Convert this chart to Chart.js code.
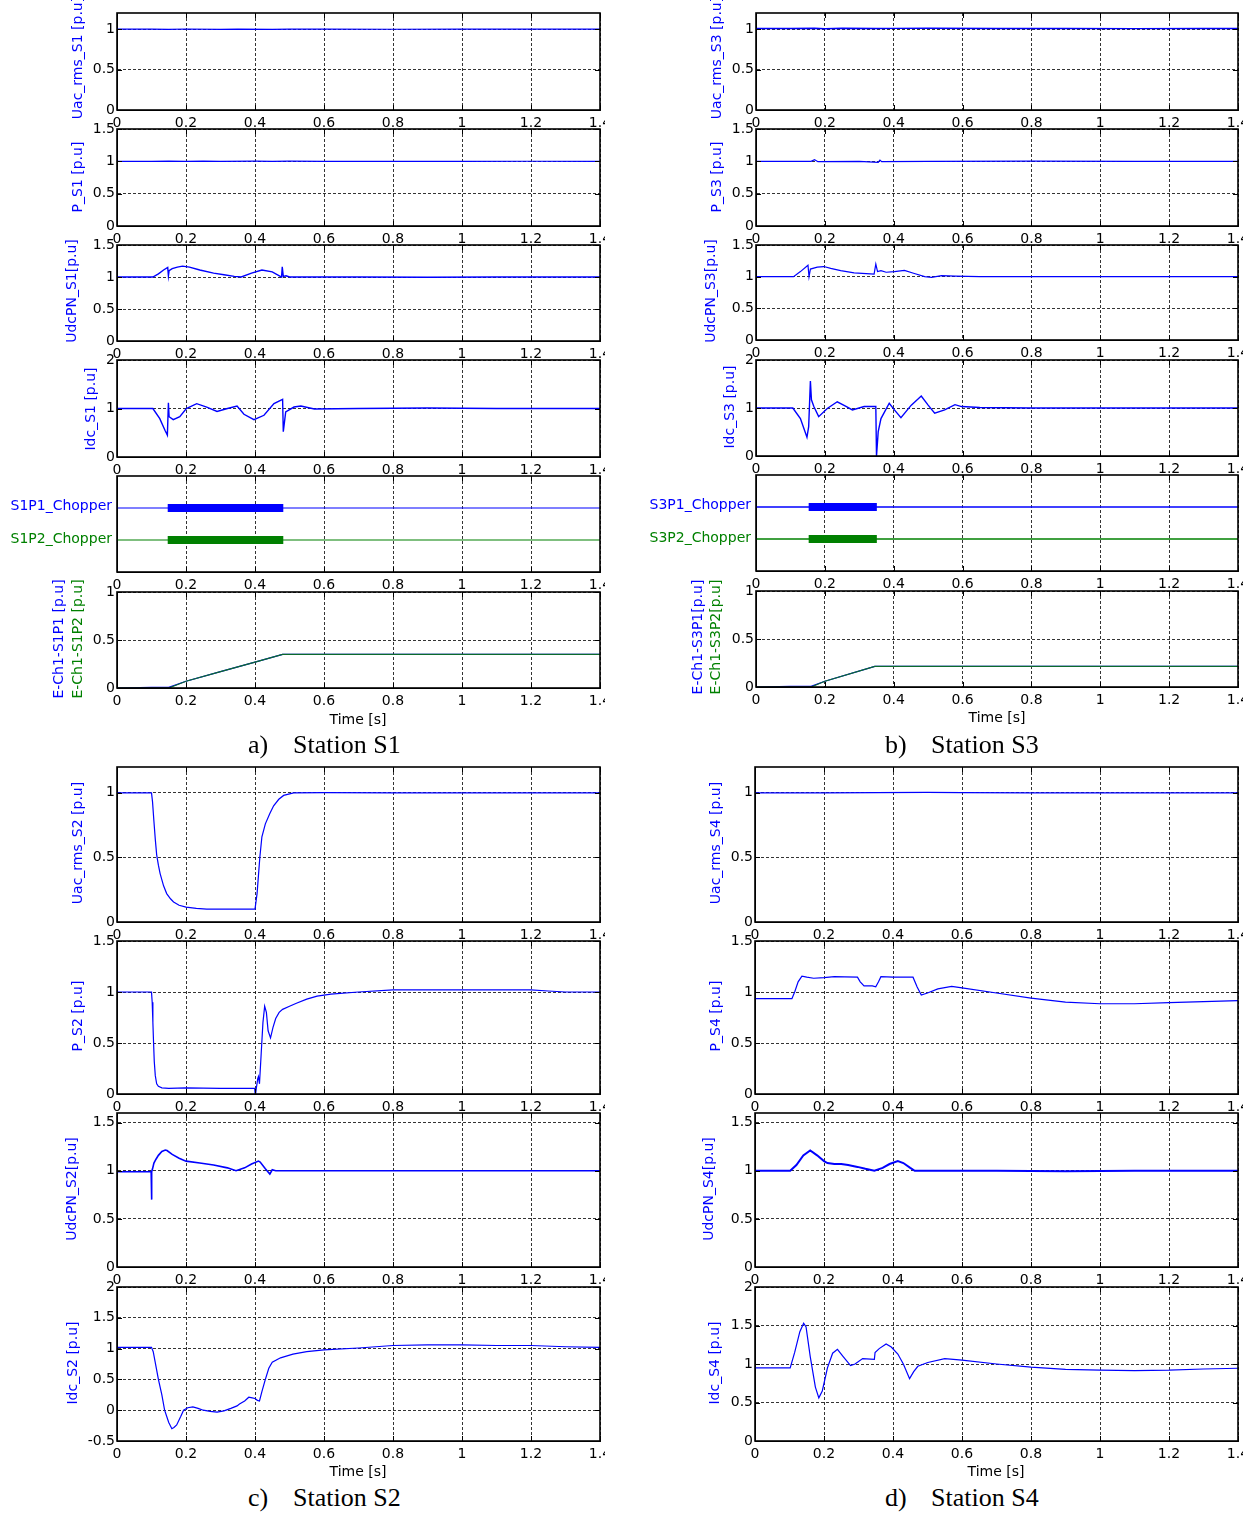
<!DOCTYPE html>
<html><head><meta charset="utf-8">
<script src="https://cdn.jsdelivr.net/npm/chart.js@4.4.1/dist/chart.umd.min.js"></script>
<style>
html,body{margin:0;padding:0;background:#fff;}
#root{position:relative;width:1259px;height:1515px;overflow:hidden;background:#fff;}
.cw{position:absolute;}
.cw canvas{display:block;}
.yl{position:absolute;white-space:nowrap;font-family:'DejaVu Sans';font-size:14px;color:#0000ff;transform:translate(-50%,-50%) rotate(-90deg);line-height:1;}
.hl{position:absolute;white-space:nowrap;font-family:'DejaVu Sans';font-size:14px;line-height:1;transform:translate(-100%,-50%);}
.tl{position:absolute;white-space:nowrap;font-family:'DejaVu Sans';font-size:14px;color:#000;transform:translate(-50%,-50%);line-height:1;}
.cap{position:absolute;white-space:nowrap;font-family:'Liberation Serif';font-size:26px;color:#000;transform:translateY(-50%);line-height:1;}
</style></head><body><div id="root"></div>
<script>
// ---------- tick values / labels ----------
const X_TICKS = [0, 0.2, 0.4, 0.6, 0.8, 1, 1.2, 1.4];
const X_TICK_LABELS = ['0', '0.2', '0.4', '0.6', '0.8', '1', '1.2', '1.4'];
const Y_TICKS_UAC = [0, 0.5, 1];
const Y_LABELS_UAC = ['0', '0.5', '1'];
const Y_TICKS_15 = [0, 0.5, 1, 1.5];
const Y_LABELS_15 = ['0', '0.5', '1', '1.5'];
const Y_TICKS_IDC_AB = [0, 1, 2];
const Y_LABELS_IDC_AB = ['0', '1', '2'];
const Y_TICKS_ECH = [0, 0.5, 1];
const Y_LABELS_ECH = ['0', '0.5', '1'];
const Y_TICKS_IDC_S2 = [-0.5, 0, 0.5, 1, 1.5, 2];
const Y_LABELS_IDC_S2 = ['-0.5', '0', '0.5', '1', '1.5', '2'];
const Y_TICKS_IDC_S4 = [0, 0.5, 1, 1.5, 2];
const Y_LABELS_IDC_S4 = ['0', '0.5', '1', '1.5', '2'];

// ---------- Station S1 ----------
const t_S1_Uac = [0, 0.1, 0.15, 0.2, 0.3, 0.35, 0.45, 0.5, 0.6, 0.8, 1.0, 1.2, 1.4];
const v_S1_Uac = [1, 1, 0.997, 1.002, 0.998, 1.001, 0.997, 1.0, 1.001, 0.999, 1.0, 1.001, 1.0];
const t_S1_P = [0, 0.1, 0.15, 0.2, 0.25, 0.3, 0.4, 0.45, 0.5, 0.6, 0.8, 1.0, 1.2, 1.4];
const v_S1_P = [1, 1, 1.003, 0.998, 1.004, 0.999, 1.002, 0.998, 1.002, 1.0, 1.0, 0.999, 1.001, 1.0];
const t_S1_Udc = [0, 0.104, 0.12, 0.135, 0.147, 0.149, 0.151, 0.16, 0.175, 0.19, 0.21, 0.24, 0.28, 0.31, 0.34, 0.36, 0.39, 0.42, 0.45, 0.477, 0.479, 0.482, 0.49, 0.5, 0.55, 0.7, 0.9, 1.1, 1.4];
const v_S1_Udc = [1, 1, 1.05, 1.11, 1.15, 1.02, 1.1, 1.13, 1.155, 1.17, 1.155, 1.11, 1.06, 1.035, 1.01, 1.0, 1.06, 1.11, 1.08, 1.0, 1.16, 1.01, 1.02, 1.0, 1.0, 1.0, 0.995, 1.0, 1.0];
const t_S1_Idc = [0, 0.104, 0.124, 0.139, 0.146, 0.149, 0.151, 0.163, 0.182, 0.201, 0.231, 0.26, 0.29, 0.32, 0.348, 0.368, 0.397, 0.426, 0.455, 0.48, 0.482, 0.489, 0.513, 0.533, 0.572, 0.7, 0.9, 1.1, 1.3, 1.4];
const v_S1_Idc = [1, 1, 0.79, 0.55, 0.45, 1.12, 0.83, 0.77, 0.83, 1.0, 1.1, 1.03, 0.94, 1.0, 1.05, 0.88, 0.77, 0.86, 1.1, 1.19, 0.52, 0.93, 1.03, 1.05, 0.99, 1.0, 1.01, 1.0, 1.0, 1.0];
const t_S1_Chop = [0, 1.4];
const t_S1_ChopOn = [0.147, 0.482];
const v_Chop_P1 = [2, 2];
const v_Chop_P2 = [1, 1];
const t_S1_E1 = [0, 0.1, 0.15, 0.2, 0.3, 0.4, 0.48, 1.4];
const v_S1_E1 = [0, 0.006, 0.006, 0.07, 0.17, 0.27, 0.35, 0.35];
const t_S1_E2 = [0, 0.15, 0.2, 0.3, 0.4, 0.48, 1.4];
const v_S1_E2 = [0, 0, 0.07, 0.17, 0.27, 0.35, 0.35];

// ---------- Station S3 ----------
const t_S3_Uac = [0, 0.1, 0.17, 0.2, 0.25, 0.35, 0.4, 0.5, 0.7, 0.9, 1.1, 1.3, 1.4];
const v_S3_Uac = [1.008, 1.008, 1.012, 1.006, 1.012, 1.008, 1.01, 1.012, 1.008, 1.009, 1.007, 1.009, 1.008];
const t_S3_P = [0, 0.16, 0.17, 0.18, 0.3, 0.355, 0.36, 0.365, 0.5, 0.8, 1.1, 1.4];
const v_S3_P = [1, 1, 1.025, 0.995, 1.0, 0.985, 1.02, 0.995, 1.0, 1.003, 1.0, 1.0];
const t_S3_Udc = [0, 0.109, 0.129, 0.151, 0.154, 0.158, 0.178, 0.197, 0.217, 0.246, 0.285, 0.343, 0.348, 0.353, 0.363, 0.378, 0.402, 0.431, 0.46, 0.49, 0.51, 0.539, 0.578, 0.65, 0.8, 1.0, 1.2, 1.4];
const v_S3_Udc = [1, 1, 1.08, 1.18, 1.0, 1.12, 1.15, 1.16, 1.13, 1.095, 1.06, 1.04, 1.2, 1.08, 1.095, 1.07, 1.08, 1.1, 1.05, 1.0, 0.99, 1.015, 1.01, 1.0, 1.0, 1.0, 1.0, 1.0];
const t_S3_Idc = [0, 0.107, 0.129, 0.148, 0.153, 0.158, 0.161, 0.168, 0.182, 0.207, 0.236, 0.26, 0.28, 0.314, 0.348, 0.35, 0.355, 0.363, 0.387, 0.402, 0.421, 0.451, 0.48, 0.5, 0.519, 0.548, 0.578, 0.597, 0.65, 0.8, 1.0, 1.2, 1.4];
const v_S3_Idc = [1, 1, 0.78, 0.39, 0.61, 1.56, 1.17, 1.03, 0.82, 0.99, 1.13, 1.04, 0.96, 1.03, 1.03, 0.0, 0.51, 0.78, 1.1, 0.96, 0.8, 1.06, 1.25, 1.06, 0.89, 0.96, 1.07, 1.03, 1.01, 1.0, 1.0, 1.0, 1.0];
const t_S3_ChopOn = [0.153, 0.351];
const t_S3_E1 = [0, 0.1, 0.16, 0.2, 0.345, 1.4];
const v_S3_E1 = [0, 0.006, 0.006, 0.06, 0.215, 0.215];
const t_S3_E2 = [0, 0.16, 0.2, 0.345, 1.4];
const v_S3_E2 = [0, 0, 0.06, 0.215, 0.215];

// ---------- Station S2 ----------
const t_S2_Uac = [0, 0.1, 0.103, 0.107, 0.111, 0.115, 0.12, 0.125, 0.135, 0.144, 0.155, 0.164, 0.18, 0.2, 0.23, 0.26, 0.4, 0.406, 0.414, 0.42, 0.43, 0.443, 0.454, 0.469, 0.483, 0.512, 0.6, 0.8, 1.0, 1.2, 1.4];
const v_S2_Uac = [1, 1, 0.93, 0.78, 0.64, 0.52, 0.44, 0.375, 0.28, 0.22, 0.18, 0.155, 0.13, 0.115, 0.105, 0.1, 0.1, 0.22, 0.5, 0.66, 0.76, 0.84, 0.9, 0.95, 0.98, 1.0, 1.002, 1.0, 1.0, 1.0, 1.0];
const t_S2_P = [0, 0.1, 0.102, 0.104, 0.106, 0.108, 0.111, 0.115, 0.12, 0.13, 0.15, 0.2, 0.3, 0.399, 0.401, 0.404, 0.408, 0.41, 0.413, 0.418, 0.423, 0.428, 0.433, 0.438, 0.445, 0.452, 0.46, 0.47, 0.48, 0.5, 0.52, 0.55, 0.58, 0.62, 0.7, 0.8, 0.9, 1.0, 1.1, 1.2, 1.25, 1.3, 1.4];
const v_S2_P = [1, 1, 0.9, 0.7, 0.5, 0.32, 0.18, 0.1, 0.075, 0.06, 0.055, 0.06, 0.055, 0.055, -0.02, 0.06, 0.15, 0.17, 0.1, 0.4, 0.7, 0.86, 0.8, 0.62, 0.55, 0.65, 0.74, 0.8, 0.83, 0.86, 0.89, 0.93, 0.96, 0.98, 1.0, 1.02, 1.02, 1.02, 1.02, 1.02, 1.01, 1.0, 1.0];
const t_S2_Udc = [0, 0.099, 0.1, 0.101, 0.103, 0.107, 0.113, 0.12, 0.13, 0.14, 0.145, 0.16, 0.18, 0.2, 0.24, 0.28, 0.32, 0.345, 0.37, 0.39, 0.41, 0.415, 0.43, 0.443, 0.45, 0.46, 0.5, 0.7, 0.9, 1.1, 1.4];
const v_S2_Udc = [0.99, 0.99, 0.70, 0.99, 1.02, 1.08, 1.12, 1.16, 1.2, 1.215, 1.21, 1.17, 1.13, 1.1, 1.08, 1.06, 1.03, 1.0, 1.03, 1.07, 1.1, 1.09, 1.02, 0.965, 1.01, 1.0, 1.0, 1.0, 1.0, 1.0, 1.0];
const t_S2_Idc = [0, 0.1, 0.105, 0.11, 0.115, 0.12, 0.13, 0.138, 0.15, 0.159, 0.165, 0.173, 0.185, 0.193, 0.205, 0.22, 0.235, 0.25, 0.27, 0.29, 0.31, 0.33, 0.348, 0.355, 0.37, 0.382, 0.392, 0.4, 0.407, 0.413, 0.42, 0.43, 0.44, 0.45, 0.474, 0.51, 0.55, 0.6, 0.7, 0.8, 0.9, 1.0, 1.1, 1.2, 1.3, 1.4];
const v_S2_Idc = [1.02, 1.02, 0.95, 0.8, 0.65, 0.5, 0.25, 0.0, -0.2, -0.3, -0.28, -0.24, -0.1, 0.0, 0.04, 0.055, 0.03, 0.0, -0.02, -0.03, -0.01, 0.03, 0.07, 0.1, 0.15, 0.21, 0.2, 0.19, 0.16, 0.15, 0.3, 0.5, 0.68, 0.78, 0.85, 0.91, 0.95, 0.98, 1.01, 1.05, 1.06, 1.06, 1.05, 1.05, 1.03, 1.02];

// ---------- Station S4 ----------
const t_S4_Uac = [0, 0.2, 0.35, 0.5, 0.6, 0.8, 1.0, 1.2, 1.4];
const v_S4_Uac = [1, 1, 1.002, 1.003, 1.001, 1.0, 1.0, 1.0, 1.0];
const t_S4_P = [0, 0.107, 0.115, 0.125, 0.136, 0.15, 0.17, 0.2, 0.23, 0.26, 0.297, 0.305, 0.316, 0.34, 0.35, 0.358, 0.365, 0.4, 0.43, 0.458, 0.47, 0.482, 0.5, 0.53, 0.57, 0.6, 0.7, 0.8, 0.9, 1.0, 1.1, 1.2, 1.3, 1.4];
const v_S4_P = [0.935, 0.935, 1.0, 1.1, 1.155, 1.145, 1.135, 1.14, 1.15, 1.148, 1.145, 1.1, 1.06, 1.06, 1.05, 1.1, 1.15, 1.145, 1.145, 1.145, 1.05, 0.97, 0.99, 1.03, 1.055, 1.04, 0.99, 0.94, 0.9, 0.885, 0.885, 0.895, 0.905, 0.915];
const t_S4_Udc = [0, 0.102, 0.12, 0.14, 0.16, 0.18, 0.2, 0.21, 0.23, 0.25, 0.27, 0.297, 0.32, 0.346, 0.37, 0.39, 0.414, 0.43, 0.45, 0.463, 0.5, 0.7, 0.9, 1.1, 1.4];
const v_S4_Udc = [1.0, 1.0, 1.06, 1.16, 1.21, 1.16, 1.1, 1.08, 1.07, 1.07, 1.06, 1.04, 1.02, 1.0, 1.03, 1.07, 1.1, 1.08, 1.03, 1.0, 1.0, 1.0, 0.995, 1.0, 1.0];
const t_S4_Idc = [0, 0.102, 0.115, 0.13, 0.141, 0.148, 0.16, 0.175, 0.185, 0.195, 0.21, 0.225, 0.239, 0.255, 0.277, 0.29, 0.312, 0.346, 0.348, 0.36, 0.38, 0.395, 0.414, 0.43, 0.448, 0.46, 0.472, 0.501, 0.55, 0.6, 0.7, 0.8, 0.9, 1.0, 1.1, 1.2, 1.3, 1.4];
const v_S4_Idc = [0.95, 0.95, 1.15, 1.42, 1.53, 1.48, 1.1, 0.7, 0.56, 0.65, 0.95, 1.14, 1.19, 1.1, 0.98, 1.0, 1.07, 1.06, 1.15, 1.2, 1.26, 1.22, 1.13, 1.0, 0.81, 0.9, 0.97, 1.02, 1.07, 1.05, 1.0, 0.96, 0.93, 0.92, 0.915, 0.92, 0.935, 0.945];

// ---------- drawing ----------
const BLUE = '#0000ff', GREEN = '#008000', ECH_GREEN = '#0b6a2c';
const PADL = 50, PADT = 12, PADR = 5, XH = 28;
const FONT = {family: 'DejaVu Sans', size: 14};
const root = document.getElementById('root');
const pts = (ts, vs) => ts.map((t, i) => ({x: t, y: vs[i]}));
const S = (ts, vs, c, w) => ({ts, vs, c, w});

const boxPlugin = {
  id: 'box',
  afterDraw(chart) {
    const {ctx, chartArea: a, scales} = chart;
    ctx.save();
    ctx.strokeStyle = '#000';
    ctx.lineWidth = 1;
    ctx.beginPath();
    scales.x.ticks.forEach(tk => {
      const p = Math.round(scales.x.getPixelForValue(tk.value)) + 0.5;
      ctx.moveTo(p, a.bottom); ctx.lineTo(p, a.bottom - 5);
      ctx.moveTo(p, a.top); ctx.lineTo(p, a.top + 5);
    });
    scales.y.ticks.forEach(tk => {
      const p = Math.round(scales.y.getPixelForValue(tk.value)) + 0.5;
      ctx.moveTo(a.left, p); ctx.lineTo(a.left + 5, p);
      ctx.moveTo(a.right, p); ctx.lineTo(a.right - 5, p);
    });
    ctx.stroke();
    ctx.lineWidth = 1.6;
    ctx.strokeRect(a.left, a.top, a.right - a.left, a.bottom - a.top);
    ctx.restore();
  }
};

function build(sp) {
  const w = sp.r - sp.l + PADL + PADR;
  const h = sp.b - sp.t + PADT + XH;
  const div = document.createElement('div');
  div.className = 'cw';
  div.style.left = (sp.l - PADL) + 'px';
  div.style.top = (sp.t - PADT) + 'px';
  div.style.width = w + 'px';
  div.style.height = h + 'px';
  const cv = document.createElement('canvas');
  cv.width = w; cv.height = h;
  cv.style.width = w + 'px'; cv.style.height = h + 'px';
  div.appendChild(cv);
  root.appendChild(div);
  const hasY = sp.yt.length > 0;
  const n = sp.series.length;
  new Chart(cv, {
    type: 'line',
    data: {
      // later entries in sp.series are drawn on top
      datasets: sp.series.map((s, i) => ({
        data: pts(s.ts, s.vs), borderColor: s.c, borderWidth: s.w || 1.2, order: n - i,
        pointRadius: 0, fill: false, tension: 0, borderCapStyle: 'butt'
      }))
    },
    options: {
      responsive: false, animation: false, devicePixelRatio: 1,
      layout: {padding: {left: 0, top: PADT, right: PADR, bottom: 0}},
      plugins: {legend: {display: false}, tooltip: {enabled: false}},
      events: [],
      scales: {
        x: {
          type: 'linear', min: 0, max: 1.4,
          afterBuildTicks: s => { s.ticks = X_TICKS.map(v => ({value: v})); },
          afterFit: s => { s.height = XH; s.paddingLeft = 0; s.paddingRight = 0; },
          ticks: {color: '#000', font: FONT, padding: 5, maxRotation: 0, minRotation: 0, autoSkip: false,
                  callback: (v, i) => X_TICK_LABELS[i]},
          grid: {color: '#000', lineWidth: 0.8, drawTicks: false},
          border: {display: true, color: '#000', width: 1, dash: [3, 2]}
        },
        y: {
          type: 'linear', min: sp.ymin, max: sp.ymax,
          afterBuildTicks: s => { s.ticks = sp.yt.map(v => ({value: v})); },
          afterFit: s => { s.width = PADL; s.paddingTop = 0; s.paddingBottom = 0; },
          ticks: {display: hasY, color: '#000', font: FONT, padding: 2, callback: (v, i) => sp.ytl[i]},
          grid: {display: hasY, color: '#000', lineWidth: 0.8, drawTicks: false},
          border: {display: true, color: '#000', width: 1, dash: [3, 2]}
        }
      }
    },
    plugins: [boxPlugin]
  });
}

const AL = 117, AR = 600, BL = 756, BR = 1238, CL = 117, CR = 600, DL = 755, DR = 1238;
const subplots = [
  // a) Station S1
  {l: AL, r: AR, t: 13, b: 110, ymin: 0, ymax: 1.2, yt: Y_TICKS_UAC, ytl: Y_LABELS_UAC, series: [S(t_S1_Uac, v_S1_Uac, BLUE)]},
  {l: AL, r: AR, t: 129, b: 226, ymin: 0, ymax: 1.5, yt: Y_TICKS_15, ytl: Y_LABELS_15, series: [S(t_S1_P, v_S1_P, BLUE)]},
  {l: AL, r: AR, t: 245, b: 341, ymin: 0, ymax: 1.5, yt: Y_TICKS_15, ytl: Y_LABELS_15, series: [S(t_S1_Udc, v_S1_Udc, BLUE, 1.4)]},
  {l: AL, r: AR, t: 360, b: 457, ymin: 0, ymax: 2, yt: Y_TICKS_IDC_AB, ytl: Y_LABELS_IDC_AB, series: [S(t_S1_Idc, v_S1_Idc, BLUE, 1.4)]},
  {l: AL, r: AR, t: 476, b: 572, ymin: 0, ymax: 3, yt: [], ytl: [], series: [
    S(t_S1_Chop, v_Chop_P1, BLUE), S(t_S1_ChopOn, v_Chop_P1, BLUE, 8),
    S(t_S1_Chop, v_Chop_P2, GREEN), S(t_S1_ChopOn, v_Chop_P2, GREEN, 8)]},
  {l: AL, r: AR, t: 592, b: 688, ymin: 0, ymax: 1, yt: Y_TICKS_ECH, ytl: Y_LABELS_ECH, series: [S(t_S1_E1, v_S1_E1, BLUE), S(t_S1_E2, v_S1_E2, ECH_GREEN)]},
  // b) Station S3
  {l: BL, r: BR, t: 13, b: 110, ymin: 0, ymax: 1.2, yt: Y_TICKS_UAC, ytl: Y_LABELS_UAC, series: [S(t_S3_Uac, v_S3_Uac, BLUE, 1.4)]},
  {l: BL, r: BR, t: 129, b: 226, ymin: 0, ymax: 1.5, yt: Y_TICKS_15, ytl: Y_LABELS_15, series: [S(t_S3_P, v_S3_P, BLUE)]},
  {l: BL, r: BR, t: 245, b: 340, ymin: 0, ymax: 1.5, yt: Y_TICKS_15, ytl: Y_LABELS_15, series: [S(t_S3_Udc, v_S3_Udc, BLUE)]},
  {l: BL, r: BR, t: 360, b: 456, ymin: 0, ymax: 2, yt: Y_TICKS_IDC_AB, ytl: Y_LABELS_IDC_AB, series: [S(t_S3_Idc, v_S3_Idc, BLUE, 1.4)]},
  {l: BL, r: BR, t: 475, b: 571, ymin: 0, ymax: 3, yt: [], ytl: [], series: [
    S(t_S1_Chop, v_Chop_P1, BLUE, 1.6), S(t_S3_ChopOn, v_Chop_P1, BLUE, 8),
    S(t_S1_Chop, v_Chop_P2, GREEN, 1.6), S(t_S3_ChopOn, v_Chop_P2, GREEN, 8)]},
  {l: BL, r: BR, t: 591, b: 687, ymin: 0, ymax: 1, yt: Y_TICKS_ECH, ytl: Y_LABELS_ECH, series: [S(t_S3_E1, v_S3_E1, BLUE), S(t_S3_E2, v_S3_E2, ECH_GREEN)]},
  // c) Station S2
  {l: CL, r: CR, t: 767, b: 922, ymin: 0, ymax: 1.2, yt: Y_TICKS_UAC, ytl: Y_LABELS_UAC, series: [S(t_S2_Uac, v_S2_Uac, BLUE)]},
  {l: CL, r: CR, t: 941, b: 1094, ymin: 0, ymax: 1.5, yt: Y_TICKS_15, ytl: Y_LABELS_15, series: [S(t_S2_P, v_S2_P, BLUE)]},
  {l: CL, r: CR, t: 1113, b: 1267, ymin: 0, ymax: 1.6, yt: Y_TICKS_15, ytl: Y_LABELS_15, series: [S(t_S2_Udc, v_S2_Udc, BLUE, 1.6)]},
  {l: CL, r: CR, t: 1287, b: 1441, ymin: -0.5, ymax: 2, yt: Y_TICKS_IDC_S2, ytl: Y_LABELS_IDC_S2, series: [S(t_S2_Idc, v_S2_Idc, BLUE)]},
  // d) Station S4
  {l: DL, r: DR, t: 767, b: 922, ymin: 0, ymax: 1.2, yt: Y_TICKS_UAC, ytl: Y_LABELS_UAC, series: [S(t_S4_Uac, v_S4_Uac, BLUE)]},
  {l: DL, r: DR, t: 941, b: 1094, ymin: 0, ymax: 1.5, yt: Y_TICKS_15, ytl: Y_LABELS_15, series: [S(t_S4_P, v_S4_P, BLUE)]},
  {l: DL, r: DR, t: 1113, b: 1267, ymin: 0, ymax: 1.6, yt: Y_TICKS_15, ytl: Y_LABELS_15, series: [S(t_S4_Udc, v_S4_Udc, BLUE, 2)]},
  {l: DL, r: DR, t: 1287, b: 1441, ymin: 0, ymax: 2, yt: Y_TICKS_IDC_S4, ytl: Y_LABELS_IDC_S4, series: [S(t_S4_Idc, v_S4_Idc, BLUE)]}
];
subplots.forEach(build);

// ---------- text ----------
function addText(cls, text, x, y, color) {
  const d = document.createElement('div');
  d.className = cls; d.textContent = text;
  d.style.left = x + 'px'; d.style.top = y + 'px';
  if (color) d.style.color = color;
  root.appendChild(d);
}
const yLabels = [
  ['Uac_rms_S1 [p.u]', 77, 58, BLUE], ['P_S1 [p.u]', 77, 177, BLUE], ['UdcPN_S1[p.u]', 71, 291, BLUE], ['Idc_S1 [p.u]', 90, 409, BLUE],
  ['E-Ch1-S1P1 [p.u]', 58, 639, BLUE], ['E-Ch1-S1P2 [p.u]', 77, 639, GREEN],
  ['Uac_rms_S3 [p.u]', 716, 58, BLUE], ['P_S3 [p.u]', 716, 177, BLUE], ['UdcPN_S3[p.u]', 710, 291, BLUE], ['Idc_S3 [p.u]', 729, 407, BLUE],
  ['E-Ch1-S3P1[p.u]', 697, 637, BLUE], ['E-Ch1-S3P2[p.u]', 715, 637, GREEN],
  ['Uac_rms_S2 [p.u]', 77, 843, BLUE], ['P_S2 [p.u]', 77, 1016, BLUE], ['UdcPN_S2[p.u]', 71, 1189, BLUE], ['Idc_S2 [p.u]', 72, 1363, BLUE],
  ['Uac_rms_S4 [p.u]', 715, 843, BLUE], ['P_S4 [p.u]', 715, 1016, BLUE], ['UdcPN_S4[p.u]', 708, 1189, BLUE], ['Idc_S4 [p.u]', 714, 1363, BLUE]
];
yLabels.forEach(l => addText('yl', l[0], l[1], l[2], l[3]));
addText('hl', 'S1P1_Chopper', 112, 505, BLUE);
addText('hl', 'S1P2_Chopper', 112, 538, GREEN);
addText('hl', 'S3P1_Chopper', 751, 504, BLUE);
addText('hl', 'S3P2_Chopper', 751, 537, GREEN);
addText('tl', 'Time [s]', 358, 719);
addText('tl', 'Time [s]', 997, 717);
addText('tl', 'Time [s]', 358, 1471);
addText('tl', 'Time [s]', 996, 1471);
[['a)', 248, 745], ['Station S1', 293, 745], ['b)', 885, 745], ['Station S3', 931, 745],
 ['c)', 248, 1498], ['Station S2', 293, 1498], ['d)', 885, 1498], ['Station S4', 931, 1498]]
  .forEach(c => addText('cap', c[0], c[1], c[2]));
</script></body></html>
